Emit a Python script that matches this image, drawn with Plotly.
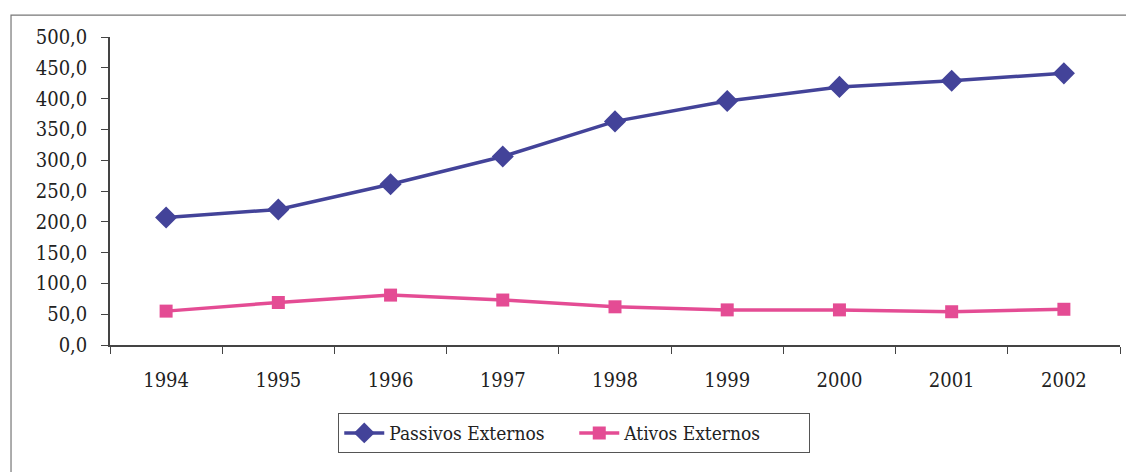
import plotly.graph_objects as go

# Dívida externa brasileira: passivos x ativos externos (US$ bilhões)
anos = ["1994", "1995", "1996", "1997", "1998", "1999", "2000", "2001", "2002"]
passivos = [207, 220, 261, 306, 363, 396, 419, 429, 441]
ativos = [55, 69, 81, 73, 62, 57, 57, 54, 58]
y_ticks = [0, 50, 100, 150, 200, 250, 300, 350, 400, 450, 500]

AZUL = "#434399"
ROSA = "#E44C94"
FONTE = "DejaVu Serif Condensed, DejaVu Serif"
TXT = "#222222"

fig = go.Figure()
fig.add_trace(go.Scatter(
    x=anos, y=passivos, name="Passivos Externos", mode="lines+markers",
    line=dict(color=AZUL, width=3.5),
    marker=dict(symbol="diamond", size=17, color=AZUL),
))
fig.add_trace(go.Scatter(
    x=anos, y=ativos, name="Ativos Externos", mode="lines+markers",
    line=dict(color=ROSA, width=3.5),
    marker=dict(symbol="square", size=13, color=ROSA),
))

fig.update_layout(
    width=1126, height=472,
    margin=dict(l=110, r=6, t=37, b=127),
    paper_bgcolor="white", plot_bgcolor="white",
    separators=",.",
    font=dict(family=FONTE, size=20, color=TXT),
    showlegend=True,
    legend=dict(
        orientation="h", x=0.226, y=-0.221, xanchor="left", yanchor="top",
        bordercolor="#555555", borderwidth=1, bgcolor="white",
        font=dict(family=FONTE, size=19, color=TXT),
        itemwidth=40, tracegroupgap=0, entrywidth=180,
    ),
    shapes=[dict(
        type="rect", xref="paper", yref="paper",
        x0=-0.098, x1=1.02, y0=-0.5, y1=1.071,
        line=dict(color="#777777", width=1.2),
    )],
)

fig.update_xaxes(
    type="category", tickson="boundaries",
    showline=True, linecolor="#444444", linewidth=1.5,
    ticks="outside", ticklen=7, tickcolor="#444444",
    showgrid=False, zeroline=False,
    tickfont=dict(family=FONTE, size=20, color=TXT),
    ticklabelstandoff=16,
    range=[-0.5, 8.5],
)
fig.update_yaxes(
    range=[0, 500], tickvals=y_ticks, tickformat=".1f",
    showline=True, linecolor="#444444", linewidth=1.5,
    ticks="outside", ticklen=7, tickcolor="#444444",
    showgrid=False, zeroline=False,
    tickfont=dict(family=FONTE, size=20, color=TXT),
    ticklabelstandoff=10,
)

fig.write_html("out.html")
